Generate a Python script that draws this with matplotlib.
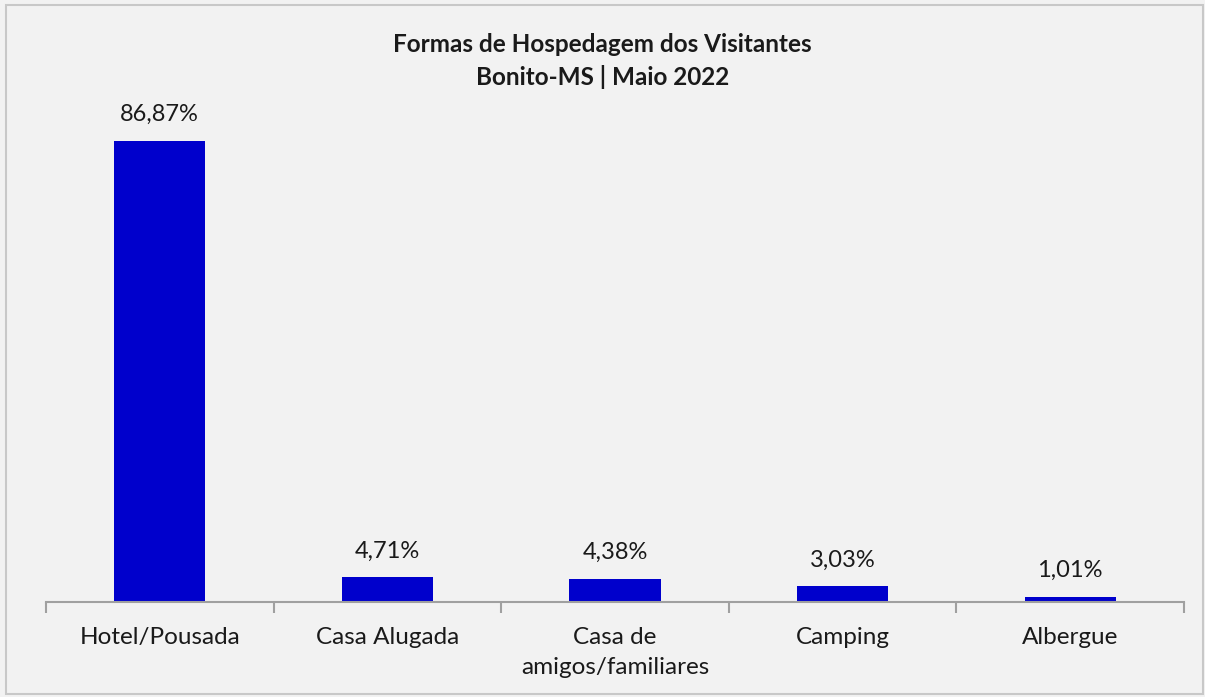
import matplotlib
matplotlib.use("Agg")
import matplotlib.pyplot as plt
from matplotlib.patches import Rectangle
import numpy as np

categories = ["Hotel/Pousada", "Casa Alugada", "Casa de\namigos/familiares", "Camping", "Albergue"]
values = [86.87, 4.71, 4.38, 3.03, 1.01]
labels = ["86,87%", "4,71%", "4,38%", "3,03%", "1,01%"]
title = "Formas de Hospedagem dos Visitantes\nBonito-MS | Maio 2022"

plt.rcParams['font.family'] = ['Lato', 'DejaVu Sans']

W, H = 1205, 697
fig = plt.figure(figsize=(W/100, H/100), dpi=100)
fig.patch.set_facecolor('#f2f2f2')
fig.patches.append(Rectangle((6/W, 1 - 694/H), (1203-6)/W, (694-5)/H, transform=fig.transFigure,
                             fill=False, edgecolor='#c8c8c8', linewidth=1.5))

ax = fig.add_axes([46/W, 1 - 602/H, 1138/W, 531/H])
ax.set_facecolor('#f2f2f2')
x = np.arange(len(categories))
ax.bar(x, values, width=0.4, color='#0000cc')
ax.set_xlim(-0.5, len(categories) - 0.5)
ax.set_ylim(0, 100)
for xi, v, l in zip(x, values, labels):
    ax.annotate(l, (xi, v), xytext=(0, 26), textcoords='offset pixels', ha='center', va='center',
                fontsize=17, color='#1a1a1a')

for s in ['top', 'right', 'left']:
    ax.spines[s].set_visible(False)
ax.spines['bottom'].set_color('#a0a0a0')
ax.spines['bottom'].set_linewidth(1.5)
ax.set_yticks([])
ax.set_xticks(np.arange(-0.5, len(categories), 1.0))
ax.set_xticklabels([])
ax.set_xticks(x, minor=True)
ax.set_xticklabels(categories, minor=True, fontsize=17.5, color='#1a1a1a', linespacing=1.55)
ax.tick_params(axis='x', which='major', length=8, width=1.5, color='#a0a0a0', direction='out')
ax.tick_params(axis='x', which='minor', length=0, pad=18)

fig.text(0.5, 1 - 61/H, title, ha='center', va='center', fontsize=17.5, fontweight='bold',
         color='#1a1a1a', linespacing=1.42)

fig.savefig('out.png', dpi=100, facecolor=fig.get_facecolor())
